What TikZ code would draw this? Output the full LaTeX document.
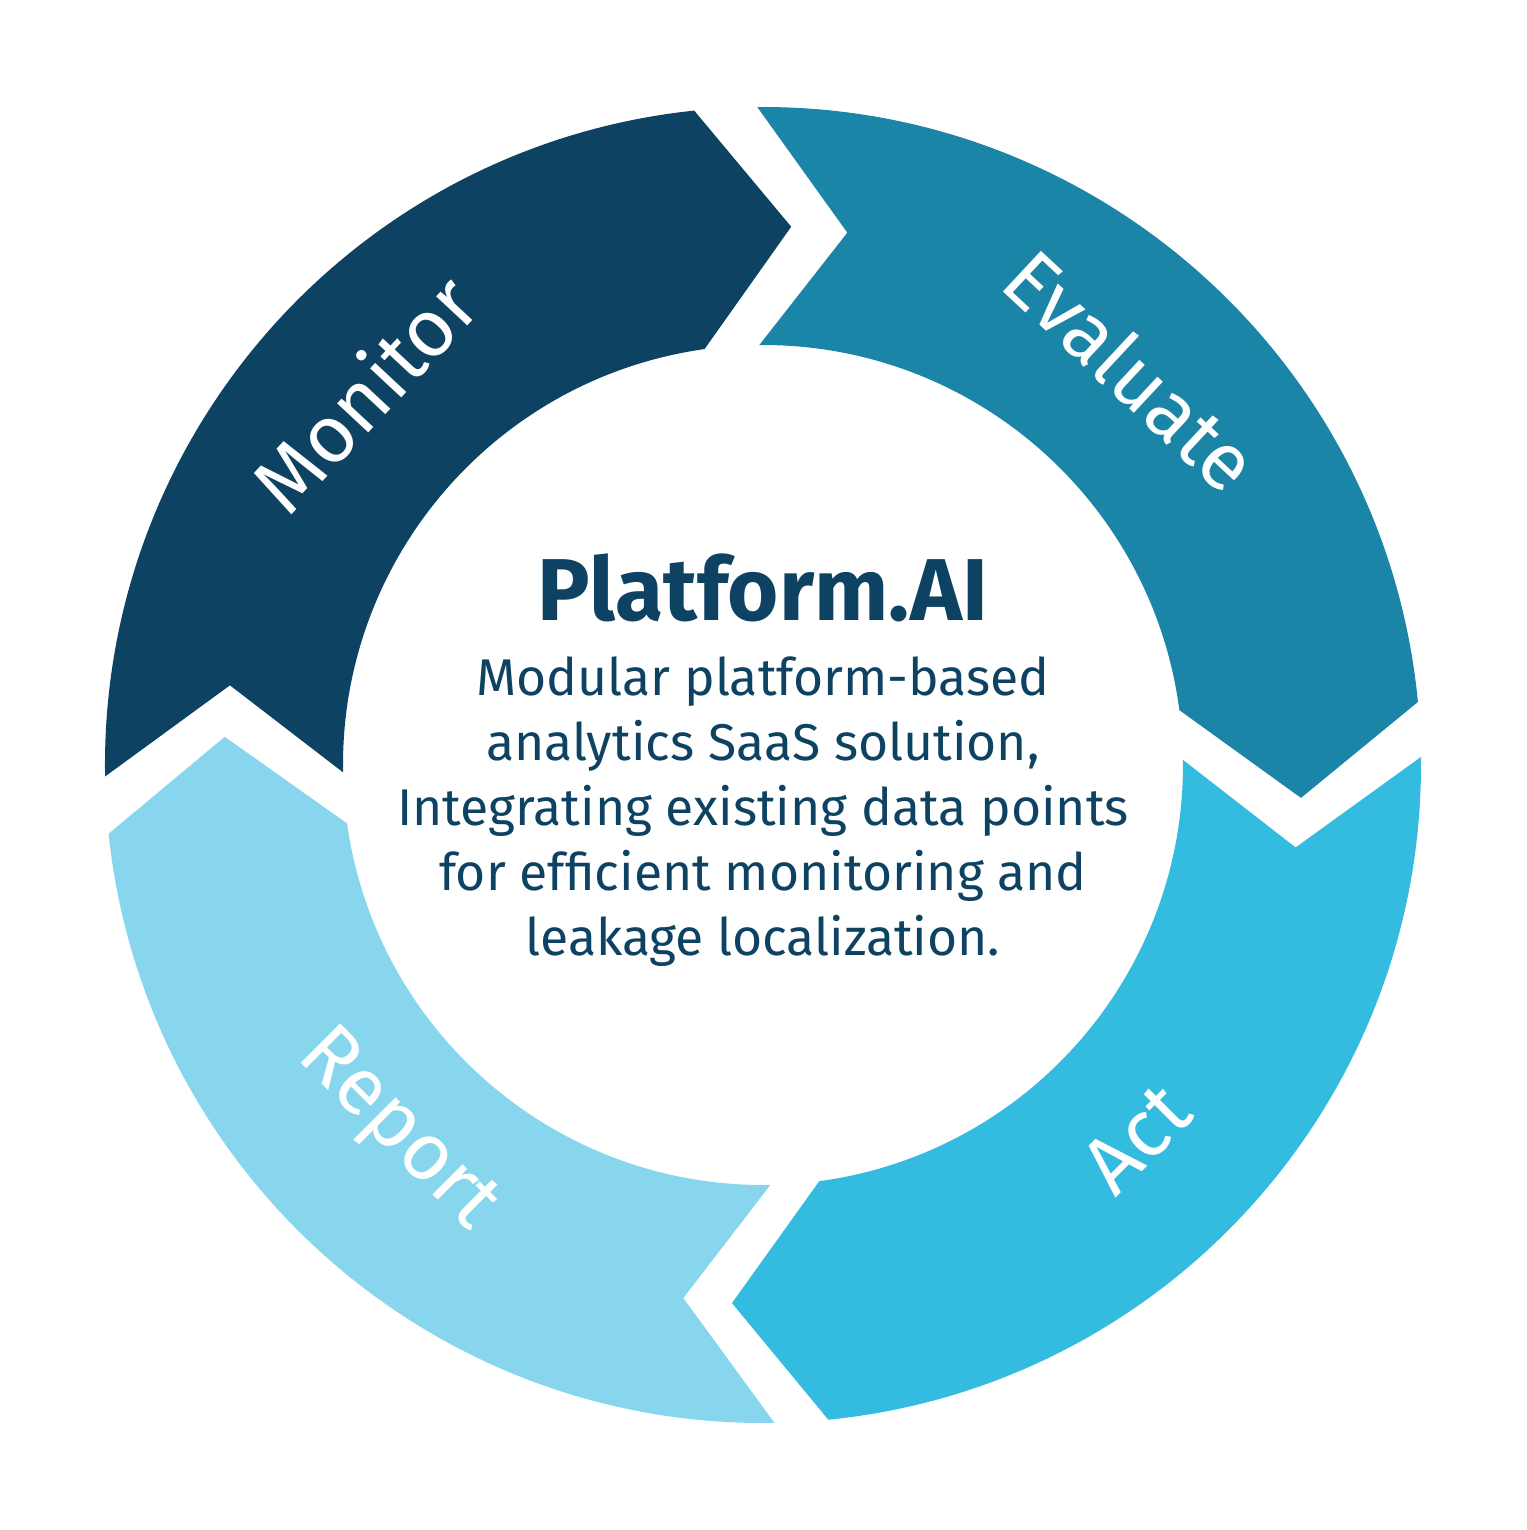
\documentclass[tikz,border=0pt]{standalone}
\usepackage{fontspec}
\setmainfont{Fira Sans}
\usepackage{tikz}
\usetikzlibrary{positioning}
\definecolor{pfnavy}{HTML}{0E4262}
\definecolor{pfteal}{HTML}{1B85A7}
\definecolor{pfcyan}{HTML}{34BBE0}
\definecolor{pfsky}{HTML}{87D6EE}
\tikzset{
  steplabel/.style={text=white, font=\fontsize{23}{28}\selectfont},
}
% one arrow segment of the ring: #1 tail angle, #2 colour
\newcommand{\ringstep}[2]{%
  \fill[#2] (#1:6.58) arc[start angle=#1, end angle=#1-85, radius=6.58]
    -- (#1-94:5.39) -- (#1-83:4.2)
    arc[start angle=#1-83, end angle=#1, radius=4.2]
    -- (#1-9.5:5.39) -- cycle;}
\begin{document}
\begin{tikzpicture}
\useasboundingbox (-7.63,-7.65) rectangle (7.63,7.65);
% Ring segments
\ringstep{181}{pfnavy}
\ringstep{90.5}{pfteal}
\ringstep{0.7}{pfcyan}
\ringstep{-89}{pfsky}
% Step labels
\node[steplabel, rotate=47] (monitor) at (137:5.46) {Monitor};
\node[steplabel, rotate=-43] (evaluate) at (47:5.40) {Evaluate};
\node[steplabel, rotate=45] (act) at (-45:5.28) {Act};
\node[steplabel, rotate=-45] (report) at (-135:5.18) {Report};
% Centre text
\node[text=pfnavy, font=\fontsize{25}{30}\selectfont\bfseries] (title) at (0,1.77) {Platform.AI};
\node[text=pfnavy, font=\fontsize{14.7}{18.5}\selectfont, align=center] (desc) at (0,-0.47)
  {Modular platform-based\\analytics SaaS solution,\\Integrating existing data points\\for efficient monitoring and\\leakage localization.};
\end{tikzpicture}
\end{document}
